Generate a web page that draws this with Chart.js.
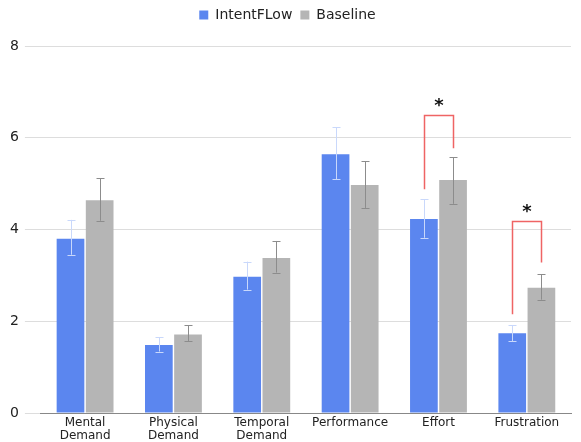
<!DOCTYPE html>
<html>
<head>
<meta charset="utf-8">
<script src="https://cdn.jsdelivr.net/npm/chart.js@4/dist/chart.umd.min.js"></script>
<style>
    html, body { margin: 0; padding: 0; background: #fff; }
    #wrap { width: 581px; height: 442px; position: relative; }
</style>
</head>
<body>
<div id="wrap"><canvas id="chart"></canvas></div>
<script>
// NASA-TLX style ratings
const categories = [['Mental', 'Demand'], ['Physical', 'Demand'], ['Temporal', 'Demand'], 'Performance', 'Effort', 'Frustration'];
const intentMeans = [3.80, 1.48, 2.97, 5.64, 4.23, 1.74];
const intentLow   = [3.45, 1.34, 2.69, 5.10, 3.82, 1.56];
const intentHigh  = [4.21, 1.65, 3.30, 6.23, 4.66, 1.91];
const baseMeans   = [4.64, 1.71, 3.38, 4.97, 5.08, 2.73];
const baseLow     = [4.19, 1.56, 3.06, 4.47, 4.56, 2.47];
const baseHigh    = [5.12, 1.91, 3.75, 5.49, 5.57, 3.02];
const yTicks      = [0, 2, 4, 6, 8];

// significance brackets: category index, top, left leg end, right leg end
const bracketCats  = [4, 5];
const bracketTop   = [6.49, 4.19];
const bracketLeft  = [4.88, 2.15];
const bracketRight = [5.77, 3.28];

const blue = '#5b86ef';
const gray = '#b5b5b5';

// Extra gap under the legend
const legendGap = {
    id: 'legendGap',
    afterInit(chart) {
        const fit = chart.legend.fit;
        chart.legend.fit = function() {
            fit.call(this);
            this.height += 14;
        };
    }
};

// Error bars and significance brackets drawn from the scales
const extrasPlugin = {
    id: 'extras',
    afterDatasetsDraw(chart) {
        const ctx = chart.ctx;
        const y = chart.scales.y;
        const errs = [[intentLow, intentHigh, '#c9d8fb'], [baseLow, baseHigh, '#8c8c8c']];
        ctx.save();
        errs.forEach(function(e, di) {
            const meta = chart.getDatasetMeta(di);
            meta.data.forEach(function(bar, i) {
                const x = Math.round(bar.x) + 0.5;
                const yl = y.getPixelForValue(e[0][i]);
                const yh = y.getPixelForValue(e[1][i]);
                ctx.strokeStyle = e[2];
                ctx.lineWidth = 1;
                ctx.beginPath();
                ctx.moveTo(x, yl); ctx.lineTo(x, yh);
                ctx.moveTo(x - 4, Math.round(yl) + 0.5); ctx.lineTo(x + 4, Math.round(yl) + 0.5);
                ctx.moveTo(x - 4, Math.round(yh) + 0.5); ctx.lineTo(x + 4, Math.round(yh) + 0.5);
                ctx.stroke();
            });
        });
        bracketCats.forEach(function(c, k) {
            const xl = Math.round(chart.getDatasetMeta(0).data[c].x) + 0.5;
            const xr = Math.round(chart.getDatasetMeta(1).data[c].x) + 0.5;
            const yt = Math.round(y.getPixelForValue(bracketTop[k])) + 0.5;
            ctx.strokeStyle = '#ef6464';
            ctx.lineWidth = 1.5;
            ctx.beginPath();
            ctx.moveTo(xl, y.getPixelForValue(bracketLeft[k]));
            ctx.lineTo(xl, yt);
            ctx.lineTo(xr, yt);
            ctx.lineTo(xr, y.getPixelForValue(bracketRight[k]));
            ctx.stroke();
            ctx.fillStyle = '#111';
            ctx.font = 'bold 18px "DejaVu Sans"';
            ctx.textAlign = 'center';
            ctx.textBaseline = 'middle';
            ctx.fillText('*', (xl + xr) / 2, yt - 9);
        });
        ctx.restore();
    }
};

new Chart(document.getElementById('chart'), {
    type: 'bar',
    data: {
        labels: categories,
        datasets: [{
            label: 'IntentFLow',
            data: intentMeans,
            backgroundColor: blue,
            borderWidth: 0
        }, {
            label: 'Baseline',
            data: baseMeans,
            backgroundColor: gray,
            borderWidth: 0
        }]
    },
    options: {
        responsive: true,
        maintainAspectRatio: false,
        animation: false,
        categoryPercentage: 0.66,
        barPercentage: 0.95,
        layout: { padding: { left: 4, right: 10, top: 0, bottom: 0 } },
        plugins: {
            legend: {
                position: 'top',
                labels: {
                    boxWidth: 9,
                    boxHeight: 9,
                    padding: 8,
                    color: '#222',
                    font: { family: '"DejaVu Sans"', size: 14 }
                }
            },
            tooltip: { enabled: false }
        },
        scales: {
            x: {
                grid: { display: false, drawTicks: false },
                border: { color: '#888' },
                afterFit: function(scale) { scale.height = 29; },
                ticks: {
                    color: '#222',
                    padding: 3,
                    maxRotation: 0,
                    autoSkip: false,
                    font: { family: '"DejaVu Sans"', size: 12, lineHeight: 1.1 }
                }
            },
            y: {
                min: 0,
                max: 8,
                afterBuildTicks: function(scale) {
                    scale.ticks = yTicks.map(function(v) { return { value: v }; });
                },
                grid: { color: '#dddddd', tickLength: 16 },
                border: { display: false },
                ticks: {
                    color: '#222',
                    padding: 6,
                    font: { family: '"DejaVu Sans"', size: 14 }
                }
            }
        }
    },
    plugins: [legendGap, extrasPlugin]
});
</script>
</body>
</html>
